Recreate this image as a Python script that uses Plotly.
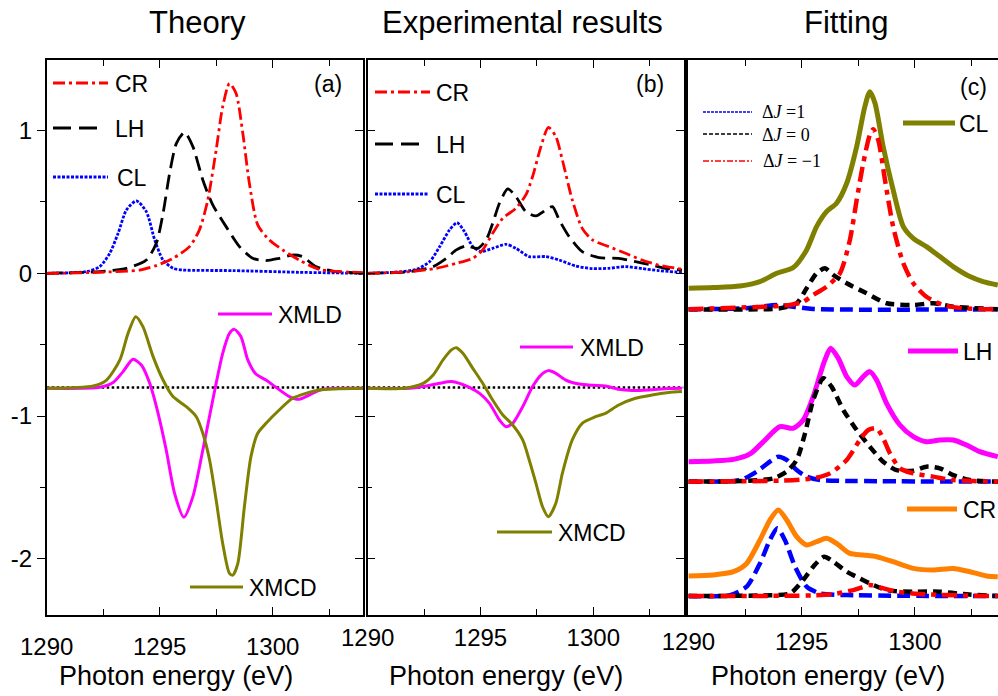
import plotly.graph_objects as go

# ---------------- DATA ----------------
# Panel (a) Theory
a_CR_x = [1290, 1292.35, 1294.12, 1294.85, 1295.59, 1296.32, 1296.76, 1297.13, 1297.5, 1297.79, 1298.09, 1298.38, 1298.68, 1298.97, 1299.34, 1299.85, 1300.44, 1301.18, 1302.06, 1304]
a_CR_y = [0, 0.007, 0.023, 0.054, 0.105, 0.187, 0.304, 0.514, 0.864, 1.168, 1.33, 1.262, 0.981, 0.631, 0.339, 0.234, 0.164, 0.093, 0.028, 0.005]
a_LH_x = [1290, 1292.35, 1293.53, 1294.41, 1294.85, 1295.15, 1295.44, 1295.74, 1296.1, 1296.47, 1296.91, 1297.35, 1297.94, 1298.53, 1299.12, 1299.71, 1300.29, 1300.88, 1301.32, 1301.91, 1302.65, 1304]
a_LH_y = [0, 0.012, 0.035, 0.093, 0.21, 0.42, 0.70, 0.91, 0.988, 0.888, 0.654, 0.479, 0.327, 0.187, 0.105, 0.089, 0.105, 0.128, 0.117, 0.047, 0.016, 0]
a_CL_x = [1290, 1291.76, 1292.35, 1292.79, 1293.16, 1293.53, 1293.97, 1294.41, 1294.78, 1295.15, 1295.59, 1296.03, 1298.24, 1301.18, 1304]
a_CL_y = [0, 0.012, 0.047, 0.14, 0.28, 0.444, 0.507, 0.432, 0.234, 0.093, 0.035, 0.023, 0.019, 0.007, 0]
a_XMLD_x = [1290, 1292.35, 1292.94, 1293.38, 1293.82, 1294.19, 1294.56, 1294.93, 1295.29, 1295.66, 1296.07, 1296.47, 1296.91, 1297.35, 1297.79, 1298.09, 1298.31, 1298.6, 1298.9, 1299.26, 1299.71, 1300.15, 1300.74, 1301.18, 1301.62, 1302.21, 1304]
a_XMLD_y = [-0.806, -0.799, -0.766, -0.689, -0.603, -0.643, -0.771, -0.981, -1.238, -1.542, -1.71, -1.565, -1.238, -0.888, -0.561, -0.421, -0.393, -0.444, -0.607, -0.706, -0.748, -0.799, -0.864, -0.883, -0.853, -0.813, -0.806]
a_XMCD_x = [1290, 1292.06, 1292.65, 1293.24, 1293.6, 1293.94, 1294.26, 1294.71, 1295.15, 1295.59, 1296.18, 1296.62, 1296.91, 1297.21, 1297.5, 1297.79, 1298.09, 1298.24, 1298.46, 1298.75, 1299.04, 1299.34, 1299.71, 1300.29, 1300.88, 1301.47, 1302.06, 1304]
a_XMCD_y = [-0.806, -0.79, -0.748, -0.607, -0.421, -0.304, -0.374, -0.584, -0.748, -0.864, -0.935, -1.005, -1.121, -1.308, -1.589, -1.893, -2.103, -2.115, -2.033, -1.636, -1.285, -1.121, -1.051, -0.958, -0.876, -0.841, -0.818, -0.806]

# Panel (b) Experimental results
b_CR_x = [1290, 1291.87, 1293.04, 1293.93, 1294.66, 1295.1, 1295.54, 1295.99, 1296.57, 1297.01, 1297.31, 1297.68, 1298.01, 1298.34, 1298.63, 1299.07, 1299.51, 1299.96, 1300.69, 1301.43, 1302.16, 1302.9, 1303.93]
b_CR_y = [0, 0.012, 0.035, 0.07, 0.105, 0.164, 0.28, 0.386, 0.456, 0.549, 0.678, 0.888, 1.023, 0.958, 0.794, 0.514, 0.315, 0.234, 0.187, 0.14, 0.093, 0.058, 0.028]
b_LH_x = [1290, 1291.87, 1292.9, 1293.49, 1293.93, 1294.37, 1294.88, 1295.25, 1295.54, 1295.84, 1296.21, 1296.57, 1297.01, 1297.46, 1297.9, 1298.19, 1298.49, 1298.93, 1299.51, 1300.25, 1301.13, 1301.87, 1302.6, 1303.19, 1303.93]
b_LH_y = [0, 0.012, 0.047, 0.105, 0.164, 0.192, 0.175, 0.234, 0.35, 0.491, 0.591, 0.537, 0.432, 0.402, 0.444, 0.467, 0.374, 0.257, 0.152, 0.11, 0.105, 0.082, 0.058, 0.035, 0.023]
b_CL_x = [1290, 1291.13, 1292.16, 1292.75, 1293.19, 1293.63, 1293.96, 1294.29, 1294.66, 1295.03, 1295.54, 1296.13, 1296.57, 1297.16, 1297.9, 1298.49, 1299.22, 1299.96, 1300.69, 1301.43, 1302.16, 1302.9, 1303.93]
b_CL_y = [0, 0.007, 0.028, 0.082, 0.187, 0.304, 0.355, 0.292, 0.187, 0.152, 0.175, 0.203, 0.175, 0.117, 0.117, 0.093, 0.051, 0.033, 0.035, 0.047, 0.033, 0.019, 0.005]
b_XMLD_x = [1290, 1291.87, 1292.6, 1293.19, 1293.71, 1294.07, 1294.51, 1294.96, 1295.4, 1295.84, 1296.13, 1296.43, 1296.87, 1297.31, 1297.68, 1298.01, 1298.34, 1298.78, 1299.37, 1299.96, 1300.54, 1301.13, 1301.72, 1302.46, 1303.34, 1303.93]
b_XMLD_y = [-0.806, -0.806, -0.79, -0.771, -0.759, -0.771, -0.799, -0.841, -0.911, -1.028, -1.075, -1.051, -0.935, -0.794, -0.713, -0.682, -0.701, -0.748, -0.776, -0.785, -0.79, -0.813, -0.822, -0.818, -0.808, -0.806]
b_XMCD_x = [1290, 1291.57, 1292.46, 1292.9, 1293.34, 1293.71, 1293.93, 1294.22, 1294.66, 1295.1, 1295.54, 1295.99, 1296.43, 1296.87, 1297.16, 1297.46, 1297.75, 1298.01, 1298.34, 1298.63, 1299.07, 1299.51, 1300.1, 1300.54, 1301.13, 1301.87, 1302.6, 1303.34, 1303.93]
b_XMCD_y = [-0.806, -0.806, -0.771, -0.713, -0.607, -0.537, -0.521, -0.561, -0.666, -0.771, -0.888, -0.993, -1.063, -1.168, -1.308, -1.472, -1.636, -1.706, -1.612, -1.402, -1.168, -1.051, -1.005, -0.981, -0.923, -0.876, -0.853, -0.836, -0.829]

baseline_y = -0.8

# Panel (c) Fitting (curves offset vertically)
c_CL_x = [1290, 1291.1, 1292.28, 1293.16, 1293.9, 1294.63, 1295.22, 1295.66, 1296.1, 1296.54, 1296.99, 1297.43, 1297.79, 1298.01, 1298.24, 1298.6, 1299.04, 1299.49, 1299.93, 1300.51, 1301.1, 1301.69, 1302.43, 1303.01, 1303.66]
c_CL_y = [-0.105, -0.1, -0.089, -0.058, 0.0, 0.04, 0.164, 0.327, 0.432, 0.491, 0.631, 0.888, 1.168, 1.273, 1.192, 0.888, 0.584, 0.327, 0.245, 0.187, 0.117, 0.047, -0.023, -0.058, -0.082]
c_CL_dJ1_x = [1290, 1292.57, 1293.9, 1294.63, 1295.51, 1303.66]
c_CL_dJ1_y = [-0.252, -0.245, -0.222, -0.234, -0.25, -0.252]
c_CL_dJ0_x = [1290, 1294.04, 1294.78, 1295.22, 1295.66, 1296.03, 1296.4, 1296.99, 1297.87, 1298.75, 1299.93, 1300.81, 1301.69, 1303.66]
c_CL_dJ0_y = [-0.252, -0.245, -0.21, -0.105, 0.0, 0.035, -0.012, -0.07, -0.14, -0.21, -0.222, -0.21, -0.234, -0.252]
c_CL_dJm1_x = [1290, 1293.31, 1294.49, 1295.07, 1295.51, 1296.1, 1296.69, 1297.13, 1297.43, 1297.72, 1298.01, 1298.16, 1298.38, 1298.68, 1299.04, 1299.49, 1299.93, 1300.51, 1301.25, 1302.13, 1303.66]
c_CL_dJm1_y = [-0.252, -0.234, -0.222, -0.199, -0.152, -0.093, 0.0, 0.234, 0.514, 0.771, 0.97, 1.009, 0.935, 0.654, 0.327, 0.07, -0.07, -0.164, -0.222, -0.245, -0.252]

c_LH_x = [1290, 1291.1, 1291.99, 1292.72, 1293.31, 1294.04, 1294.63, 1295.07, 1295.51, 1296.0, 1296.28, 1296.62, 1296.99, 1297.35, 1297.72, 1298.01, 1298.31, 1298.75, 1299.34, 1299.93, 1300.51, 1301.1, 1301.69, 1302.28, 1302.87, 1303.66]
c_LH_y = [-1.32, -1.315, -1.304, -1.266, -1.18, -1.075, -1.086, -1.028, -0.864, -0.619, -0.526, -0.596, -0.724, -0.783, -0.724, -0.689, -0.748, -0.911, -1.063, -1.145, -1.18, -1.168, -1.168, -1.203, -1.25, -1.285]
c_LH_dJ1_x = [1290, 1292.28, 1293.01, 1293.6, 1293.97, 1294.34, 1294.78, 1295.22, 1295.81, 1296.99, 1303.66]
c_LH_dJ1_y = [-1.46, -1.449, -1.39, -1.32, -1.285, -1.308, -1.379, -1.425, -1.449, -1.455, -1.46]
c_LH_dJ0_x = [1290, 1292.57, 1293.75, 1294.34, 1294.78, 1295.15, 1295.51, 1295.96, 1296.32, 1296.84, 1297.43, 1298.01, 1298.6, 1299.19, 1299.93, 1300.51, 1301.1, 1301.69, 1302.43, 1303.66]
c_LH_dJ0_y = [-1.46, -1.455, -1.437, -1.39, -1.308, -1.121, -0.888, -0.736, -0.794, -0.958, -1.098, -1.215, -1.32, -1.379, -1.383, -1.355, -1.367, -1.414, -1.449, -1.46]
c_LH_dJm1_x = [1290, 1294.04, 1295.51, 1296.25, 1296.99, 1297.57, 1297.94, 1298.31, 1298.6, 1298.9, 1299.34, 1299.93, 1300.81, 1301.69, 1303.66]
c_LH_dJm1_y = [-1.46, -1.453, -1.437, -1.402, -1.308, -1.168, -1.098, -1.086, -1.156, -1.262, -1.367, -1.402, -1.425, -1.449, -1.46]

c_CR_x = [1290, 1291.1, 1291.99, 1292.57, 1293.16, 1293.6, 1293.97, 1294.34, 1294.78, 1295.22, 1295.66, 1296.1, 1296.54, 1297.13, 1297.72, 1298.31, 1299.04, 1299.93, 1300.81, 1301.69, 1302.43, 1303.16, 1303.66]
c_CR_y = [-2.121, -2.114, -2.091, -2.033, -1.869, -1.729, -1.659, -1.729, -1.846, -1.904, -1.881, -1.857, -1.893, -1.963, -1.974, -1.986, -2.021, -2.068, -2.079, -2.068, -2.091, -2.121, -2.126]
c_CR_dJ1_x = [1290, 1291.84, 1292.57, 1293.16, 1293.6, 1293.93, 1294.26, 1294.71, 1295.22, 1295.81, 1296.99, 1303.66]
c_CR_dJ1_y = [-2.262, -2.255, -2.196, -2.033, -1.869, -1.787, -1.869, -2.056, -2.196, -2.243, -2.255, -2.262]
c_CR_dJ0_x = [1290, 1293.31, 1294.49, 1295.07, 1295.51, 1295.99, 1296.4, 1296.99, 1297.57, 1298.01, 1298.75, 1299.93, 1301.1, 1302.13, 1303.66]
c_CR_dJ0_y = [-2.262, -2.257, -2.243, -2.149, -2.056, -1.986, -2.021, -2.091, -2.138, -2.173, -2.22, -2.231, -2.231, -2.248, -2.262]
c_CR_dJm1_x = [1290, 1295.51, 1296.4, 1297.28, 1298.01, 1298.46, 1299.19, 1300.22, 1303.66]
c_CR_dJm1_y = [-2.262, -2.257, -2.248, -2.22, -2.185, -2.201, -2.231, -2.248, -2.262]

panel_titles = ["Theory", "Experimental results", "Fitting"]
x_title = "Photon energy (eV)"
y_tickvals = [-2, -1, 0, 1]
y_ticktext = ["-2", "-1", "0", "1"]

# ---------------- STYLE / LAYOUT ----------------
W, H = 998, 696
FONT = "Liberation Sans, Arial, sans-serif"
SERIF = "Liberation Serif, Times New Roman, serif"
RED, BLACK, BLUE = "#ff0000", "#000000", "#0000ff"
MAG, OLIVE, ORANGE = "#ff00ff", "#808000", "#ff8000"

def PX(x):
    return x / W

def PY(y):
    return 1 - y / H

YR = [-2.3945, 1.4947]
XR = [1290, 1304]

fig = go.Figure()

def add(x, y, color, width, dash, xa, ya):
    fig.add_trace(go.Scatter(x=x, y=y, mode="lines", xaxis=xa, yaxis=ya,
                             line=dict(color=color, width=width, dash=dash, shape="spline", smoothing=0.7),
                             showlegend=False, hoverinfo="skip"))

DASHDOT = "12px,4px,3px,4px"
DASH = "15px,7px"
DOT = "3px,1.5px"

# panel a
add(a_CL_x, a_CL_y, BLUE, 2.8, DOT, "x", "y")
add(a_LH_x, a_LH_y, BLACK, 2.8, DASH, "x", "y")
add(a_CR_x, a_CR_y, RED, 2.8, DASHDOT, "x", "y")
fig.add_trace(go.Scatter(x=XR, y=[baseline_y, baseline_y], mode="lines", xaxis="x", yaxis="y",
                         line=dict(color=BLACK, width=2.5, dash="2.5px,2.5px"), showlegend=False, hoverinfo="skip"))
add(a_XMLD_x, a_XMLD_y, MAG, 3, "solid", "x", "y")
add(a_XMCD_x, a_XMCD_y, OLIVE, 3, "solid", "x", "y")
fig.add_trace(go.Scatter(x=[None], y=[None], xaxis="x", yaxis="y4", showlegend=False, hoverinfo="skip"))

# panel b
add(b_CL_x, b_CL_y, BLUE, 2.8, DOT, "x2", "y2")
add(b_LH_x, b_LH_y, BLACK, 2.8, DASH, "x2", "y2")
add(b_CR_x, b_CR_y, RED, 2.8, DASHDOT, "x2", "y2")
fig.add_trace(go.Scatter(x=XR, y=[baseline_y, baseline_y], mode="lines", xaxis="x2", yaxis="y2",
                         line=dict(color=BLACK, width=2.5, dash="2.5px,2.5px"), showlegend=False, hoverinfo="skip"))
add(b_XMLD_x, b_XMLD_y, MAG, 3, "solid", "x2", "y2")
add(b_XMCD_x, b_XMCD_y, OLIVE, 3, "solid", "x2", "y2")

# panel c
CB = "13px,6px"
CK = "9px,6px"
CRD = "15px,6px,5px,6px"
for sx, sy, col, gx1, gy1, gx0, gy0, gxm, gym in [
    (c_CL_x, c_CL_y, OLIVE, c_CL_dJ1_x, c_CL_dJ1_y, c_CL_dJ0_x, c_CL_dJ0_y, c_CL_dJm1_x, c_CL_dJm1_y),
    (c_LH_x, c_LH_y, MAG, c_LH_dJ1_x, c_LH_dJ1_y, c_LH_dJ0_x, c_LH_dJ0_y, c_LH_dJm1_x, c_LH_dJm1_y),
    (c_CR_x, c_CR_y, ORANGE, c_CR_dJ1_x, c_CR_dJ1_y, c_CR_dJ0_x, c_CR_dJ0_y, c_CR_dJm1_x, c_CR_dJm1_y),
]:
    add(sx, sy, col, 5, "solid", "x3", "y3")
    add(gx1, gy1, BLUE, 4.5, CB, "x3", "y3")
    add(gx0, gy0, BLACK, 4.5, CK, "x3", "y3")
    add(gxm, gym, RED, 4.5, CRD, "x3", "y3")

axis_common = dict(showline=True, linecolor="black", linewidth=1.5, showgrid=False, zeroline=False,
                   automargin=False)
xax = dict(axis_common, range=XR, tickmode="linear", tick0=1290, dtick=5, ticks="inside", ticklen=8,
           tickwidth=1.3, tickcolor="black", mirror="ticks",
           tickfont=dict(family=FONT, size=24, color="black"),
           minor=dict(dtick=2.5, tick0=1290, ticks="inside", ticklen=6, tickwidth=1.3, tickcolor="black"))

fig.update_layout(
    width=W, height=H, margin=dict(l=0, r=0, t=0, b=0, pad=0),
    plot_bgcolor="white", paper_bgcolor="white", showlegend=False,
    xaxis=dict(xax, domain=[PX(46.7), PX(363)], anchor="y", ticklabelstandoff=9),
    xaxis2=dict(xax, domain=[PX(367.7), PX(683.5)], anchor="y2", ticklabelstandoff=0),
    xaxis3=dict(xax, domain=[PX(688.4), 1.0], anchor="y3", range=[1290, 1303.67], ticklabelstandoff=4),
    yaxis=dict(axis_common, domain=[PY(615), PY(60)], range=YR, anchor="x", mirror=True,
               tickmode="array", tickvals=y_tickvals, ticktext=y_ticktext, ticks="outside", ticklen=8,
               tickwidth=1.3, tickcolor="black", tickfont=dict(family=FONT, size=24, color="black"),
               minor=dict(dtick=0.5, tick0=0, ticks="outside", ticklen=5, tickwidth=1.3, tickcolor="black")),
    yaxis4=dict(range=YR, overlaying="y", side="right", anchor="x", showgrid=False, zeroline=False,
                automargin=False,
                showline=False, showticklabels=False, tickmode="array", tickvals=y_tickvals,
                ticks="inside", ticklen=8, tickwidth=1.3, tickcolor="black",
                minor=dict(dtick=0.5, tick0=0, ticks="inside", ticklen=5, tickwidth=1.3, tickcolor="black")),
    yaxis2=dict(axis_common, domain=[PY(615), PY(60)], range=YR, anchor="x2", mirror="ticks",
                showticklabels=False, tickmode="array", tickvals=y_tickvals, ticks="inside", ticklen=8,
                tickwidth=1.3, tickcolor="black",
                minor=dict(dtick=0.5, tick0=0, ticks="inside", ticklen=5, tickwidth=1.3, tickcolor="black")),
    yaxis3=dict(axis_common, domain=[PY(615), PY(60)], range=YR, anchor="x3", mirror=False,
                showticklabels=False, ticks=""),
)

shapes = []
ann = []

def seg(x0, x1, y, color, width, dash):
    shapes.append(dict(type="line", xref="paper", yref="paper", x0=PX(x0), x1=PX(x1), y0=PY(y), y1=PY(y),
                       line=dict(color=color, width=width, dash=dash)))

def txt(x, y, s, size=23, anchor="left", family=FONT):
    ann.append(dict(xref="paper", yref="paper", x=PX(x), y=PY(y), text=s, showarrow=False,
                    xanchor=anchor, yanchor="middle", font=dict(family=family, size=size, color="black")))

# titles
txt(197, 22, panel_titles[0], 31, "center")
txt(522, 22, panel_titles[1], 31, "center")
txt(846, 22, panel_titles[2], 31, "center")
# x titles
txt(176, 676, x_title, 27, "center")
txt(506, 676, x_title, 27, "center")
txt(828, 676, x_title, 27, "center")

# panel a legend
seg(53, 108, 83, RED, 2.8, DASHDOT); txt(113, 84, "CR")
seg(53, 97, 128, BLACK, 2.8, "18px,8px"); txt(113, 129, "LH")
seg(53, 108, 177, BLUE, 2.8, DOT); txt(115, 178, "CL")
txt(328, 84, "(a)", 23, "center")
seg(218, 272, 314, MAG, 3, "solid"); txt(276, 315, "XMLD")
seg(190, 243, 587, OLIVE, 3, "solid"); txt(247, 588, "XMCD")

# panel b legend
seg(375, 430, 92, RED, 2.8, DASHDOT); txt(434, 93, "CR")
seg(375, 420, 144, BLACK, 2.8, "18px,8px"); txt(434, 145, "LH")
seg(375, 428, 194, BLUE, 2.8, DOT); txt(434, 195, "CL")
txt(650, 84, "(b)", 23, "center")
seg(520, 573, 347, MAG, 3, "solid"); txt(578, 348, "XMLD")
seg(497, 552, 532, OLIVE, 3, "solid"); txt(556, 533, "XMCD")

# panel c legend
seg(703, 752, 112, BLUE, 1.3, "3px,1px"); txt(760, 112, "Δ<i>J</i> =1", 18, family=SERIF)
seg(703, 752, 134, BLACK, 1.3, "4px,2px"); txt(760, 135, "Δ<i>J</i> = 0", 18, family=SERIF)
seg(703, 752, 161, RED, 1.3, "6px,2px,2px,2px"); txt(761, 161, "Δ<i>J</i> = −1", 18, family=SERIF)
txt(973, 87, "(c)", 23, "center")
seg(903, 955, 123, OLIVE, 5, "solid"); txt(957, 124, "CL")
seg(908, 958, 351, MAG, 5, "solid"); txt(961, 352, "LH")
seg(907, 957, 509, ORANGE, 5, "solid"); txt(961, 510, "CR")

fig.update_layout(shapes=shapes, annotations=ann)
fig.write_html("out.html", config={"displayModeBar": False},
               post_script="document.body.style.margin='0px';document.body.style.overflow='hidden';")
